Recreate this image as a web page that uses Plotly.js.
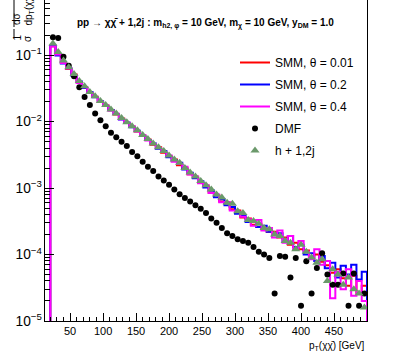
<!DOCTYPE html>
<html>
<head>
<meta charset="utf-8">
<script src="https://cdn.plot.ly/plotly-3.0.1.min.js"></script>
<style>
body { margin: 0; background: #fff; }
#chart { width: 407px; height: 361px; }
</style>
</head>
<body>
<div id="chart"></div>
<script>
// pT(chi chibar) histograms, 8 GeV bins starting at 20 GeV
var binLow = 20;
var binWidth = 8;

var smm001 = [0.136, 0.101, 0.077, 0.062, 0.051, 0.039, 0.033, 0.027, 0.0236, 0.0198,
    0.0175, 0.0149, 0.0128, 0.0111, 0.0095, 0.0084, 0.0071, 0.0062, 0.0054, 0.0045,
    0.0041, 0.0034, 0.0030, 0.0027, 0.0022, 0.0020, 0.00162, 0.00148, 0.00120, 0.00108,
    8.6e-4, 7.9e-4, 6.3e-4, 6.0e-4, 4.8e-4, 4.6e-4, 3.6e-4, 3.5e-4, 2.8e-4, 2.9e-4,
    2.4e-4, 2.2e-4, 2.2e-4, 1.8e-4, 1.8e-4, 1.4e-4, 1.5e-4, 1.2e-4, 1.15e-4, 9.0e-5,
    1.0e-4, 7.8e-5, 6.9e-5, 5.3e-5, 6.0e-5, 4.4e-5, 3.4e-5, 4.8e-5, 2.6e-5, 3.4e-5];

var smm02 = [0.139, 0.099, 0.075, 0.064, 0.049, 0.040, 0.032, 0.028, 0.0232, 0.0202,
    0.0172, 0.0150, 0.0130, 0.0108, 0.0097, 0.0082, 0.0073, 0.0061, 0.0053, 0.0047,
    0.0039, 0.0036, 0.0029, 0.0026, 0.0024, 0.0019, 0.00170, 0.00140, 0.00127, 0.00102,
    9.2e-4, 7.3e-4, 6.8e-4, 5.5e-4, 5.2e-4, 4.1e-4, 3.9e-4, 3.1e-4, 3.2e-4, 2.6e-4,
    2.7e-4, 2.2e-4, 2.0e-4, 2.1e-4, 1.6e-4, 1.9e-4, 1.3e-4, 1.4e-4, 1.0e-4, 1.05e-4,
    8.0e-5, 9.5e-5, 6.2e-5, 7.5e-5, 4.5e-5, 6.8e-5, 5.0e-5, 7.0e-5, 4.2e-5, 5.5e-5];

var smm04 = [0.135, 0.102, 0.076, 0.063, 0.050, 0.038, 0.033, 0.027, 0.0235, 0.0199,
    0.0176, 0.0146, 0.0131, 0.0109, 0.0096, 0.0085, 0.0071, 0.0063, 0.0052, 0.0046,
    0.0040, 0.0035, 0.0031, 0.0025, 0.0023, 0.0021, 0.00160, 0.00150, 0.00118, 0.00110,
    8.4e-4, 8.0e-4, 6.1e-4, 6.2e-4, 4.6e-4, 4.4e-4, 3.7e-4, 3.4e-4, 2.7e-4, 3.3e-4,
    2.3e-4, 2.5e-4, 1.8e-4, 2.3e-4, 1.5e-4, 1.9e-4, 1.2e-4, 1.6e-4, 1.1e-4, 8.5e-5,
    1.2e-4, 7.0e-5, 8.0e-5, 2.2e-5, 5.5e-5, 3.0e-5, 6.0e-5, 2.4e-5, 4.0e-5, 2.0e-5];

var dmf = [0.186, 0.182, 0.095, 0.069, 0.048, 0.033, 0.0234, 0.0178, 0.0132, 0.0105,
    0.0085, 0.0068, 0.0058, 0.0050, 0.0043, 0.0035, 0.0030, 0.0025, 0.0021, 0.0018,
    0.0015, 0.0013, 0.00112, 9.5e-4, 8.1e-4, 7.1e-4, 6.3e-4, 5.5e-4, 4.9e-4, 4.2e-4,
    3.5e-4, 3.0e-4, 2.5e-4, 2.1e-4, 1.9e-4, 1.7e-4, 1.6e-4, 1.5e-4, 1.3e-4, 1.1e-4,
    1.0e-4, 8.9e-5, 2.6e-5, 9.5e-5, 9.3e-5, 4.5e-5, 8.9e-5, 1.7e-5, 7.9e-5, 2.6e-5,
    6.3e-5, 1.05e-4, 5.0e-5, 3.5e-5, 3.5e-5, 5.2e-5, 1.7e-5, 5.2e-5, 1.7e-5, 2.6e-5];

var hjets = [0.150, 0.112, 0.083, 0.066, 0.052, 0.041, 0.034, 0.028, 0.0240, 0.0205,
    0.0178, 0.0152, 0.0132, 0.0113, 0.0098, 0.0085, 0.0074, 0.0063, 0.0055, 0.0047,
    0.0041, 0.0036, 0.0031, 0.0027, 0.0024, 0.0020, 0.00172, 0.00150, 0.00128, 0.00110,
    9.5e-4, 8.0e-4, 7.2e-4, 6.0e-4, 5.8e-4, 4.5e-4, 4.2e-4, 3.3e-4, 3.2e-4, 2.9e-4,
    2.5e-4, 2.4e-4, 2.0e-4, 1.9e-4, 1.6e-4, 1.5e-4, 1.2e-4, 1.4e-4, 1.1e-4, 9.0e-5,
    7.5e-5, 8.5e-5, 4.0e-5, 6.0e-5, 5.0e-5, 3.5e-5, 4.5e-5, 3.0e-5, 2.6e-5, 1.6e-5];

var xTicks = [50, 100, 150, 200, 250, 300, 350, 400, 450];

// plot frame in pixels, used to place the free text
var W = 407, H = 361;
var mL = 45, mR = 40, mT = 0, mB = 40;
function px(x) { return (x - mL) / (W - mL - mR); }
function py(y) { return 1 - (y - mT) / (H - mT - mB); }

function histTrace(name, values, color) {
    let x = [binLow];
    let y = [1e-7];
    for (let i = 0; i < values.length; i++) {
        x.push(binLow + i * binWidth);
        y.push(values[i]);
    }
    let hi = binLow + values.length * binWidth;
    x.push(hi); y.push(values[values.length - 1]);
    x.push(hi); y.push(1e-7);
    return {
        name: name, x: x, y: y, type: 'scatter', mode: 'lines',
        line: { shape: 'hv', color: color, width: 2 },
        legendgroup: name
    };
}

function markerTrace(name, values, symbol, color, size) {
    let x = [];
    for (let i = 0; i < values.length; i++) {
        x.push(binLow + (i + 0.5) * binWidth);
    }
    return {
        name: name, x: x, y: values, type: 'scatter', mode: 'markers',
        marker: { symbol: symbol, color: color, size: size },
        legendgroup: name
    };
}

var traces = [];
traces.push(histTrace('SMM, θ = 0.01', smm001, '#ff0000'));
traces.push(histTrace('SMM, θ = 0.2', smm02, '#0000ff'));
traces.push(histTrace('SMM, θ = 0.4', smm04, '#ff00ff'));
traces.push(markerTrace('DMF', dmf, 'circle', '#000000', 6));
traces.push(markerTrace('h + 1,2j', hjets, 'triangle-up', '#6b996b', 8));

var font = 'Liberation Sans, Arial, Helvetica, sans-serif';

var layout = {
    width: W, height: H,
    margin: { l: mL, r: mR, t: mT, b: mB },
    paper_bgcolor: '#fff', plot_bgcolor: '#fff',
    font: { family: font, color: '#000', size: 11 },
    xaxis: {
        range: [12, 500],
        tickmode: 'array', tickvals: xTicks,
        ticks: 'inside', ticklen: 8, tickcolor: '#000',
        showline: true, linecolor: '#000', mirror: true,
        showgrid: false, zeroline: false,
        tickfont: { size: 11 },
        minor: { ticks: 'inside', ticklen: 4, dtick: 10, tick0: 0, tickcolor: '#000', showgrid: false }
    },
    yaxis: {
        type: 'log', range: [-5, -0.17],
        dtick: 1, exponentformat: 'power',
        ticks: 'inside', ticklen: 9, tickcolor: '#000',
        showline: true, linecolor: '#000', mirror: true,
        showgrid: false, zeroline: false,
        tickfont: { size: 11 },
        minor: { ticks: 'inside', ticklen: 5, dtick: 'D1', tickcolor: '#000', showgrid: false }
    },
    legend: {
        x: px(235), y: py(48), xanchor: 'left', yanchor: 'top',
        bgcolor: 'rgba(0,0,0,0)', font: { size: 12 },
        traceorder: 'grouped', tracegroupgap: 3
    },
    annotations: [
        {
            text: '<b>pp → χχ̄ + 1,2j : m<sub>h2, φ</sub> = 10 GeV, m<sub>χ</sub> = 10 GeV, y<sub>DM</sub> = 1.0</b>',
            xref: 'paper', yref: 'paper', x: px(205), y: py(15),
            showarrow: false, font: { size: 10 }
        },
        {
            text: 'p<sub>T</sub>(χχ̄) [GeV]',
            xref: 'paper', yref: 'paper', x: px(367), y: py(338),
            xanchor: 'right', yanchor: 'top', showarrow: false, font: { size: 10 }
        },
        {
            text: '1', textangle: -90,
            xref: 'paper', yref: 'paper', x: px(9), y: py(33),
            showarrow: false, font: { size: 10 }
        },
        {
            text: 'dσ', textangle: -90,
            xref: 'paper', yref: 'paper', x: px(9), y: py(10),
            showarrow: false, font: { size: 10 }
        },
        {
            text: 'σ', textangle: -90,
            xref: 'paper', yref: 'paper', x: px(20), y: py(33),
            showarrow: false, font: { size: 10 }
        },
        {
            text: 'dp<sub>T</sub>(χχ̄)', textangle: -90,
            xref: 'paper', yref: 'paper', x: px(20), y: py(28),
            yanchor: 'bottom', showarrow: false, font: { size: 10 }
        }
    ],
    shapes: [
        { type: 'line', xref: 'paper', yref: 'paper', x0: px(14), x1: px(14), y0: py(37), y1: py(29), line: { color: '#000', width: 1 } },
        { type: 'line', xref: 'paper', yref: 'paper', x0: px(14), x1: px(14), y0: py(27), y1: py(0), line: { color: '#000', width: 1 } }
    ]
};

Plotly.newPlot('chart', traces, layout, { staticPlot: true });
</script>
</body>
</html>
